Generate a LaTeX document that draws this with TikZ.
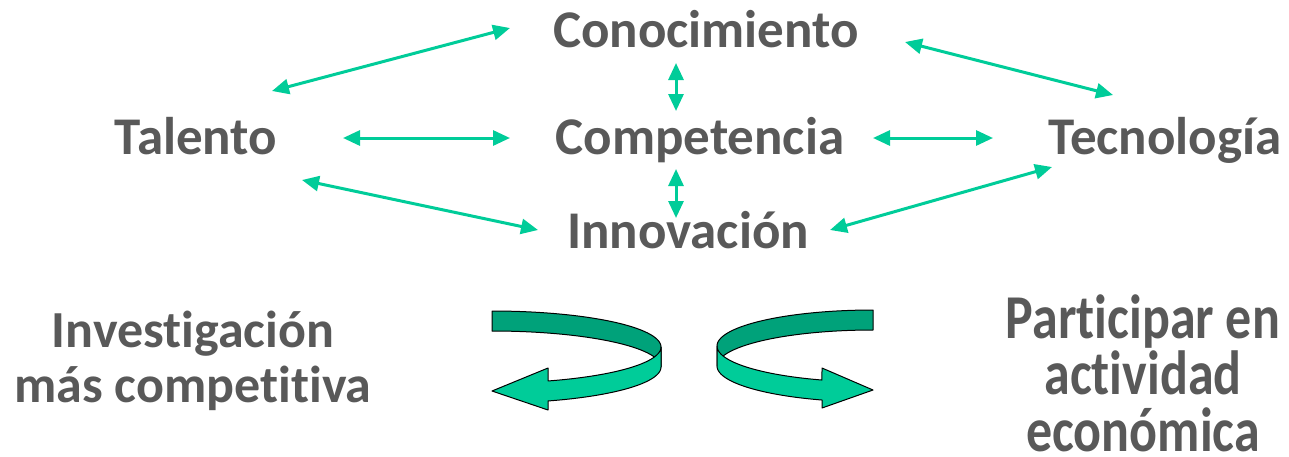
\documentclass[tikz,border=0pt]{standalone}
\usepackage{fontspec}
\setmainfont{Carlito}[Ligatures=NoCommon]
\usetikzlibrary{arrows.meta}
\definecolor{txtgray}{RGB}{89,89,89}
\definecolor{arrgreen}{RGB}{0,204,153}
\definecolor{bandlight}{RGB}{0,204,153}
\definecolor{banddark}{RGB}{0,162,122}
\begin{document}
\begin{tikzpicture}[x=1pt,y=-1pt,
  word/.style={font=\fontsize{53}{55}\selectfont\bfseries, text=txtgray, inner sep=0pt, anchor=base, align=center},
  link/.style={draw=arrgreen, line width=3pt, {Triangle[length=17pt,width=15pt]}-{Triangle[length=17pt,width=15pt]}},
  band/.style={draw=black, line width=1pt, line join=round}]
\path[use as bounding box] (0,0) rectangle (1289,456);

% labels (multi-line nodes: base = baseline of last line)
\node[word] (con) at (706,47) {Conocimiento};
\node[word] (tal) at (196,154) {Talento};
\node[word] (com) at (700,154) {Competencia};
\node[word] (tec) at (1165,154) {Tecnología};
\node[word] (inn) at (688,248) {Innovación};
\node[word, font=\fontsize{52}{55}\selectfont\bfseries] (inv) at (193,402) {Investigación\\más competitiva};
\node[word, font=\fontsize{52}{47}\selectfont\bfseries] (par) at (1143,451)
  {\scalebox{1}[1.2]{\parbox[b]{320pt}{\centering\lineskiplimit=-100pt
   Participar en\\actividad\\económica}}};

% connector ends
\coordinate (talNE) at (272,91);
\coordinate (conW) at (510,28);
\coordinate (conE) at (905,42);
\coordinate (tecNW) at (1113,95);
\coordinate (talE) at (343,138);
\coordinate (comW) at (510,138);
\coordinate (comE) at (873,138);
\coordinate (tecW) at (993,138);
\coordinate (talSE) at (302,180);
\coordinate (innW) at (538,230);
\coordinate (innE) at (830,230);
\coordinate (tecSW) at (1052,167);
\coordinate (conS) at (676,63);
\coordinate (comN) at (676,111);
\coordinate (comS) at (676,169);
\coordinate (innN) at (676,218);

\draw[link] (talNE) -- (conW);
\draw[link] (conE) -- (tecNW);
\draw[link] (talE) -- (comW);
\draw[link] (comE) -- (tecW);
\draw[link] (talSE) -- (innW);
\draw[link] (innE) -- (tecSW);
\draw[link] (conS) -- (comN);
\draw[link] (comS) -- (innN);

% left curved arrow
\filldraw[band, fill=banddark] (492,311)
  -- plot[domain=90:0, samples=40, smooth] ({492+169*cos(\x)}, {347-36*sin(\x)})
  -- (661,367)
  -- plot[domain=0:90, samples=40, smooth] ({492+169*cos(\x)}, {367-36*sin(\x)})
  -- cycle;
\filldraw[band, fill=bandlight] (661,347)
  -- plot[domain=0:70.6, samples=40, smooth] ({492+169*cos(\x)}, {347+36*sin(\x)})
  -- (548,368) -- (492,391) -- (548,410) -- (548,401)
  -- plot[domain=70.6:0, samples=40, smooth] ({492+169*cos(\x)}, {367+36*sin(\x)})
  -- cycle;

% right curved arrow
\filldraw[band, fill=banddark] (873,310)
  -- plot[domain=90:180, samples=40, smooth] ({873+156*cos(\x)}, {346-36*sin(\x)})
  -- (717,366)
  -- plot[domain=180:90, samples=40, smooth] ({873+156*cos(\x)}, {366-36*sin(\x)})
  -- cycle;
\filldraw[band, fill=bandlight] (717,346)
  -- plot[domain=180:109.1, samples=40, smooth] ({873+156*cos(\x)}, {346+36*sin(\x)})
  -- (822,368) -- (873,390) -- (822,408) -- (822,400)
  -- plot[domain=109.1:180, samples=40, smooth] ({873+156*cos(\x)}, {366+36*sin(\x)})
  -- cycle;
\end{tikzpicture}
\end{document}
